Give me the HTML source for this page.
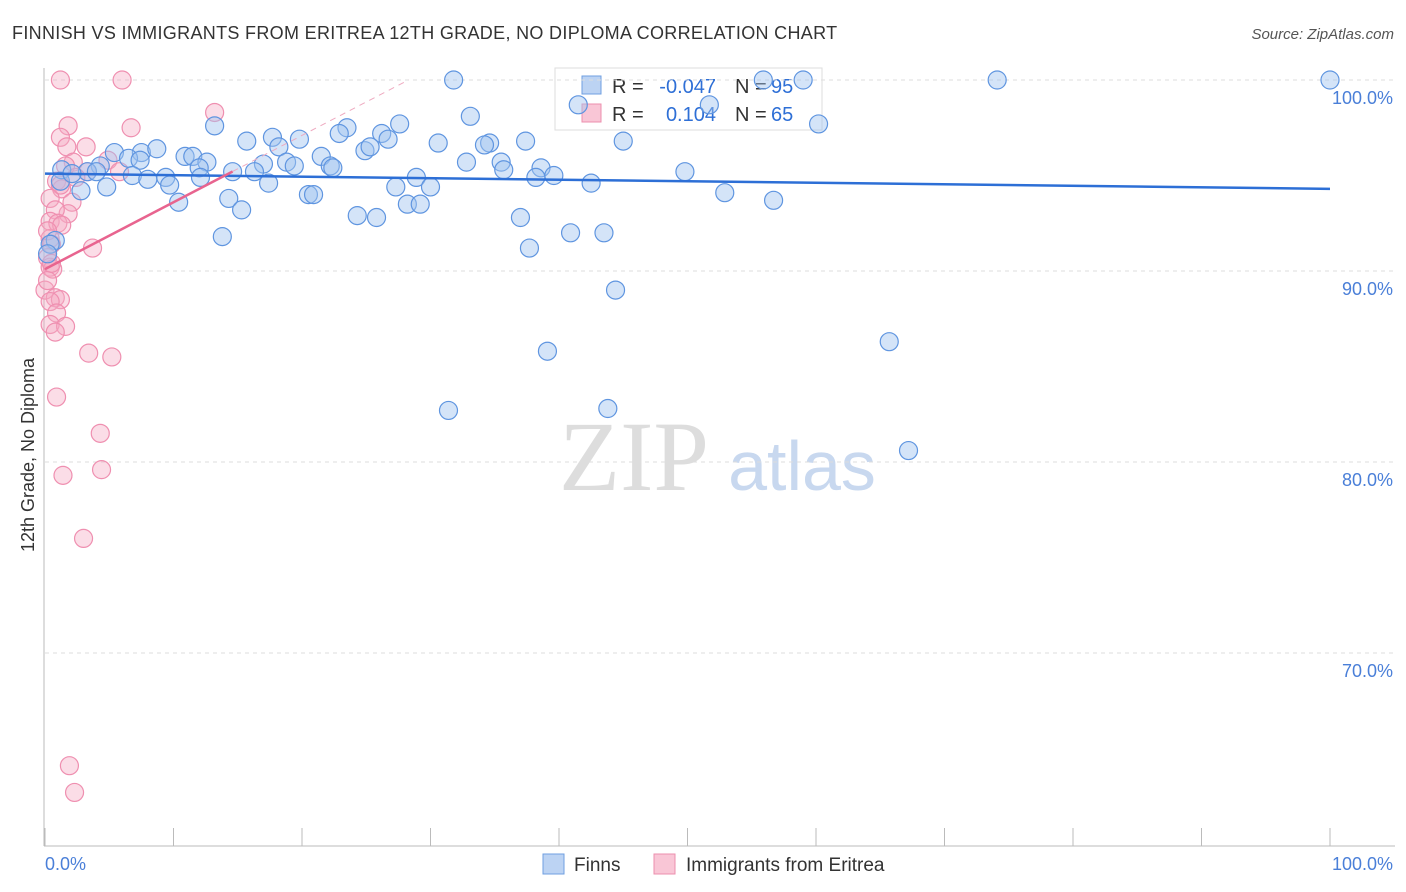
<!DOCTYPE html>
<html><head><meta charset="utf-8">
<style>
body{margin:0;background:#fff;font-family:"Liberation Sans",sans-serif;}
#wrap{position:relative;width:1406px;height:892px;overflow:hidden;}
</style></head>
<body>
<div id="wrap">
<svg id="svg" width="1406" height="892" xmlns="http://www.w3.org/2000/svg">
<text x="12" y="39" font-size="18" fill="#333" letter-spacing="0.32">FINNISH VS IMMIGRANTS FROM ERITREA 12TH GRADE, NO DIPLOMA CORRELATION CHART</text>
<text x="1394" y="39" font-size="15" fill="#555" font-style="italic" text-anchor="end">Source: ZipAtlas.com</text>
<text x="634" y="490" font-size="100" fill="#ddd" font-family="Liberation Serif,serif" text-anchor="middle">ZIP</text>
<text x="802" y="490" font-size="70" fill="#c8d8ef" text-anchor="middle">atlas</text>
<text transform="translate(34,455) rotate(-90)" font-size="18" fill="#333" text-anchor="middle">12th Grade, No Diploma</text>
<g>
<rect x="555" y="68" width="267" height="62" fill="#fff" stroke="#ddd"/>
<rect x="582" y="76" width="19" height="18" fill="#bcd3f3" stroke="#6f9fe0"/>
<rect x="582" y="104" width="19" height="18" fill="#f9c6d6" stroke="#ec8fae"/>
<text x="612" y="93" font-size="20" fill="#333">R =</text>
<text x="716" y="93" font-size="20" fill="#2e6fd6" text-anchor="end">-0.047</text>
<text x="735" y="93" font-size="20" fill="#333">N =</text>
<text x="771" y="93" font-size="20" fill="#2e6fd6">95</text>
<text x="612" y="121" font-size="20" fill="#333">R =</text>
<text x="716" y="121" font-size="20" fill="#2e6fd6" text-anchor="end">0.104</text>
<text x="735" y="121" font-size="20" fill="#333">N =</text>
<text x="771" y="121" font-size="20" fill="#2e6fd6">65</text>
</g>
<g id="grid"></g><g id="pts"></g><g id="lines"></g>
<g>
<rect x="543" y="854" width="21" height="20" fill="#bcd3f3" stroke="#6f9fe0"/>
<text x="574" y="871" font-size="19" fill="#333">Finns</text>
<rect x="654" y="854" width="21" height="20" fill="#f9c6d6" stroke="#ec8fae"/>
<text x="686" y="871" font-size="19" fill="#333">Immigrants from Eritrea</text>
</g>
</svg>
</div>
<script>
const blueX=[31.8,74.1,100,59.0,55.9,41.5,51.7,60.2,33.1,13.2,23.5,22.9,27.6,26.2,26.7,17.7,15.7,19.8,18.2,37.4,30.6,34.6,34.2,45.0,24.9,25.3,5.4,7.5,10.9,11.5,8.7,12.6,21.5,18.8,19.4,17.0,14.6,16.3,32.8,35.5,35.7,38.6,39.6,38.2,49.8,6.5,7.4,4.3,1.3,3.3,4.0,6.8,8.0,9.4,12.0,12.1,22.2,22.4,28.9,42.5,17.4,27.3,30.0,1.2,4.8,2.8,9.7,20.5,20.9,14.3,15.3,10.4,28.2,29.2,24.3,25.8,52.9,56.7,37.0,40.9,43.5,13.8,37.7,44.4,39.1,65.7,31.4,43.8,67.2,2.1,0.8,0.4,0.2];
const blueY=[100,100,100,100,100,98.7,98.7,97.7,98.1,97.6,97.5,97.2,97.7,97.2,96.9,97.0,96.8,96.9,96.5,96.8,96.7,96.7,96.6,96.8,96.3,96.5,96.2,96.2,96.0,96.0,96.4,95.7,96.0,95.7,95.5,95.6,95.2,95.2,95.7,95.7,95.3,95.4,95.0,94.9,95.2,95.9,95.8,95.5,95.3,95.2,95.2,95.0,94.8,94.9,95.4,94.9,95.5,95.4,94.9,94.6,94.6,94.4,94.4,94.7,94.4,94.2,94.5,94.0,94.0,93.8,93.2,93.6,93.5,93.5,92.9,92.8,94.1,93.7,92.8,92.0,92.0,91.8,91.2,89.0,85.8,86.3,82.7,82.8,80.6,95.1,91.6,91.4,90.9];
const pinkX=[1.2,6.0,13.2,6.7,1.8,1.2,3.2,1.7,2.2,4.9,1.6,3.3,2.4,0.9,1.3,1.2,0.4,2.1,1.8,0.8,0.4,1.0,1.3,3.7,0.4,0.5,0.2,0.4,0.6,0,0.8,1.2,0.4,0.9,0.4,1.6,0.8,3.4,5.2,0.9,4.3,1.4,4.4,3.0,1.9,2.3,5.8,0.2,0.5,0.2];
const pinkY=[100,100,98.3,97.5,97.6,97.0,96.5,96.5,95.7,95.8,95.5,95.2,94.9,94.7,94.3,94.5,93.8,93.6,93.0,93.2,92.6,92.5,92.4,91.2,91.7,91.4,90.7,90.2,90.1,89.0,88.6,88.5,88.4,87.8,87.2,87.1,86.8,85.7,85.5,83.4,81.5,79.3,79.6,76.0,64.1,62.7,95.2,89.5,90.4,92.1];
const yTicks=[100,90,80,70];
const yTickLabels=["100.0%","90.0%","80.0%","70.0%"];
const xTickLabels=["0.0%","100.0%"];
const blueTrend=[95.1,94.3];
const pinkTrend=[90.1,0.35];

const X0=45,X1=1330,Y100=80,PPY=19.1;
const sx=v=>X0+(X1-X0)*v/100;
const sy=v=>Y100+(100-v)*PPY;
const NS="http://www.w3.org/2000/svg";
function mk(parent,tag,attrs){const e=document.createElementNS(NS,tag);for(const k in attrs)e.setAttribute(k,attrs[k]);parent.appendChild(e);return e;}
const grid=document.getElementById('grid');
const ax=mk(grid,'line',{x1:44,y1:68,x2:44,y2:846,stroke:'#bbb'});


const bx=mk(grid,'line',{x1:44,y1:846,x2:1395,y2:846,stroke:'#bbb'});


for(let i=0;i<=10;i++){const x=sx(i*10);const t=mk(grid,'line',{x1:x,y1:828,x2:x,y2:846,stroke:'#bbb'});

}
yTicks.forEach((v,i)=>{const y=sy(v);
const g=mk(grid,'line',{x1:45,y1:y,x2:1395,y2:y,stroke:'#ddd','stroke-dasharray':'4,4'});


const t=mk(grid,'text',{x:1393,y:y+24,'font-size':18,fill:'#4a7fd8','text-anchor':'end'});t.textContent=yTickLabels[i];

});
xTickLabels.forEach((s,i)=>{const t=mk(grid,'text',{x:i?1393:45,y:870,'font-size':18,fill:'#4a7fd8','text-anchor':i?'end':'start'});t.textContent=s;

});
const pts=document.getElementById('pts');
pinkX.forEach((v,i)=>{const c=mk(pts,'circle',{cx:sx(v),cy:sy(pinkY[i]),r:9,fill:'rgba(246,170,196,0.4)',stroke:'#ef8fb0','stroke-width':1.2});

});
blueX.forEach((v,i)=>{const c=mk(pts,'circle',{cx:sx(v),cy:sy(blueY[i]),r:9,fill:'rgba(160,195,240,0.45)',stroke:'#5f95e0','stroke-width':1.2});

});
const lines=document.getElementById('lines');
const bl=mk(lines,'line',{x1:sx(0),y1:sy(blueTrend[0]),x2:sx(100),y2:sy(blueTrend[1]),stroke:'#2d6fd6','stroke-width':2.5});


const pEnd=14.6,pFull=(100-pinkTrend[0])/pinkTrend[1];
const pl=mk(lines,'line',{x1:sx(0),y1:sy(pinkTrend[0]),x2:sx(pEnd),y2:sy(pinkTrend[0]+pinkTrend[1]*pEnd),stroke:'#e8648f','stroke-width':2.5});


const pd=mk(lines,'line',{x1:sx(pEnd),y1:sy(pinkTrend[0]+pinkTrend[1]*pEnd),x2:sx(pFull),y2:sy(100),stroke:'#eeaac0','stroke-width':1,'stroke-dasharray':'6,5'});


</script>
</body></html>
